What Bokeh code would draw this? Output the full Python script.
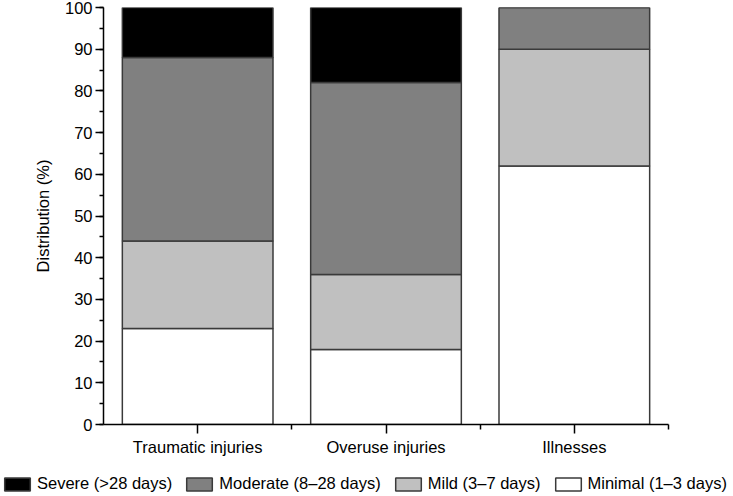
from bokeh.plotting import figure
from bokeh.layouts import column
from bokeh.models import (Range1d, FixedTicker, SingleIntervalTicker, Legend, LegendItem,
                          ColumnDataSource)
from bokeh.embed import file_html
from bokeh.resources import INLINE

categories = ["Traumatic injuries", "Overuse injuries", "Illnesses"]
minimal = [23, 18, 62]
mild = [21, 18, 28]
moderate = [44, 46, 10]
severe = [12, 18, 0]

series = ["minimal", "mild", "moderate", "severe"]
labels = {"severe": "Severe (>28 days)", "moderate": "Moderate (8\u201328 days)",
          "mild": "Mild (3\u20137 days)", "minimal": "Minimal (1\u20133 days)"}
colors = {"minimal": "#ffffff", "mild": "#c0c0c0", "moderate": "#808080", "severe": "#000000"}

xpos = [i + 0.5 for i in range(len(categories))]
source = ColumnDataSource(dict(x=xpos, minimal=minimal, mild=mild, moderate=moderate, severe=severe))

FONT = "Liberation Sans"
FS = "16.5px"
EDGE = "#3a3a3a"

p = figure(width=733, height=470, output_backend="svg", toolbar_location=None,
           x_range=Range1d(0, 3), y_range=Range1d(0, 100),
           min_border_left=103, min_border_right=65, min_border_top=7, min_border_bottom=46)
p.outline_line_color = None
p.grid.visible = False
p.frame_align = False

rends = p.vbar_stack(series, x="x", width=0.8, source=source,
                     fill_color=[colors[s] for s in series],
                     line_color=EDGE, line_width=1.5)

xa = p.xaxis[0]
xa.ticker = FixedTicker(ticks=xpos, minor_ticks=[1, 2, 3])
xa.major_label_overrides = {x: c for x, c in zip(xpos, categories)}
xa.major_tick_out = 9
xa.major_tick_in = 0
xa.minor_tick_out = 5
xa.minor_tick_in = 0
xa.major_label_standoff = 4
xa.major_label_text_font = FONT
xa.major_label_text_font_size = FS
xa.major_label_text_color = "black"
xa.axis_line_width = 1.5
xa.axis_line_color = "black"
xa.major_tick_line_width = 1.5
xa.minor_tick_line_width = 1.5

ya = p.yaxis[0]
ya.ticker = SingleIntervalTicker(interval=10, num_minor_ticks=2)
ya.major_tick_out = 8
ya.major_tick_in = 0
ya.minor_tick_out = 4
ya.minor_tick_in = 0
ya.major_label_standoff = 3
ya.major_label_text_font = FONT
ya.major_label_text_font_size = FS
ya.major_label_text_color = "black"
ya.axis_line_width = 1.5
ya.axis_line_color = "black"
ya.major_tick_line_width = 1.5
ya.minor_tick_line_width = 1.5
ya.axis_label = "Distribution (%)"
ya.axis_label_text_font = FONT
ya.axis_label_text_font_size = FS
ya.axis_label_text_font_style = "normal"
ya.axis_label_text_color = "black"
ya.axis_label_standoff = 10

# legend strip below the chart
pl = figure(width=733, height=26, output_backend="svg", toolbar_location=None,
            x_range=Range1d(0, 3), y_range=Range1d(0, 100),
            x_axis_location=None, y_axis_location=None,
            min_border_left=0, min_border_right=0, min_border_top=0, min_border_bottom=0)
pl.outline_line_color = None
pl.grid.visible = False
pl.frame_align = False
lrends = pl.vbar_stack(series, x="x", width=0.8, source=source,
                       fill_color=[colors[s] for s in series],
                       line_color=EDGE, line_width=1.5)
for r in lrends:
    r.visible = False

order = ["severe", "moderate", "mild", "minimal"]
items = [LegendItem(label=labels[s], renderers=[lrends[series.index(s)]]) for s in order]
legend = Legend(items=items, orientation="horizontal", location=(1, 3),
                glyph_width=32, glyph_height=16, label_standoff=4, spacing=11,
                label_height=16, padding=0, margin=0, border_line_color=None,
                background_fill_alpha=0, inactive_fill_alpha=0,
                label_text_font=FONT, label_text_font_size=FS, label_text_color="black")
pl.add_layout(legend, "center")

layout = column(p, pl, spacing=0)
open("out.html", "w").write(file_html(layout, INLINE))
